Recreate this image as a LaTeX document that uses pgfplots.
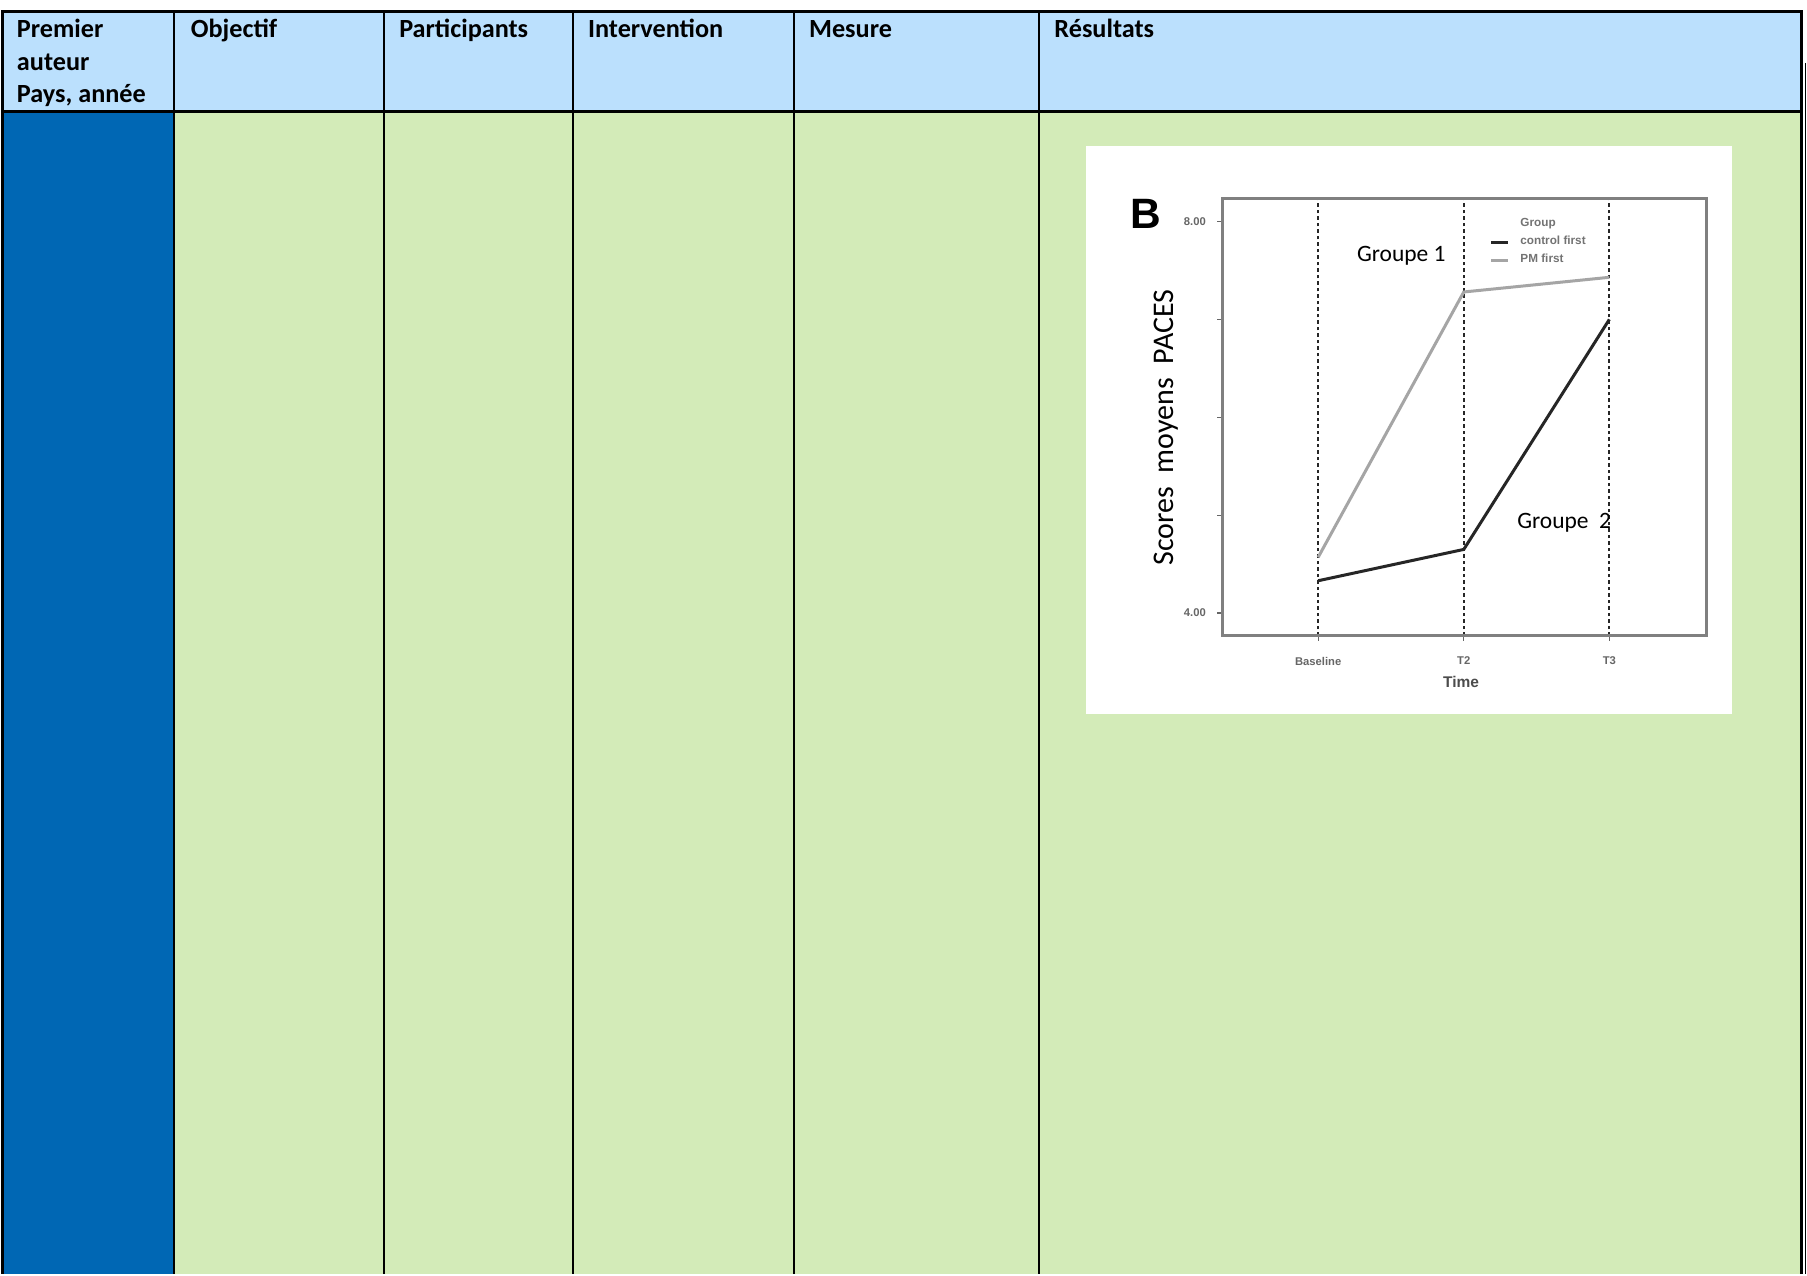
\documentclass[border=0pt]{standalone}
\usepackage{fontspec}
\setmainfont{Carlito}
\newfontfamily\arial{Liberation Sans}
\usepackage{pgfplots}
\pgfplotsset{compat=1.18}
\definecolor{hdrblue}{RGB}{187,224,253}
\definecolor{bodygreen}{RGB}{211,235,184}
\definecolor{darkblue}{RGB}{0,103,180}
\definecolor{lgray}{RGB}{165,165,165}
\newcommand{\hdr}{\fontsize{10.5}{12}\selectfont\bfseries}
\begin{document}
\begin{tikzpicture}
\begin{axis}[x=0.4pt,y=0.4pt,y dir=reverse,xmin=0,xmax=1807,ymin=0,ymax=1275,hide axis,clip=false]
\fill[white] (axis cs:0,0) rectangle (axis cs:1807,1275);
\fill[hdrblue] (axis cs:0,11.5) rectangle (axis cs:1801.5,111.8);
\fill[bodygreen] (axis cs:172.9,111.8) rectangle (axis cs:1801.5,1275);
\fill[darkblue] (axis cs:0,111.8) rectangle (axis cs:172.9,1275);
\fill[white] (axis cs:1085.6,146.4) rectangle (axis cs:1732,714.5);
\draw[line width=1.2pt] (axis cs:1.2,1275) -- (axis cs:1.2,11.5) -- (axis cs:1801.5,11.5) -- (axis cs:1801.5,1275);
\draw[line width=1.2pt] (axis cs:0,111.8) -- (axis cs:1801.5,111.8);
\draw[line width=0.8pt] (axis cs:172.9,11.5) -- (axis cs:172.9,1275);
\draw[line width=0.8pt] (axis cs:382.6,11.5) -- (axis cs:382.6,1275);
\draw[line width=0.8pt] (axis cs:571.6,11.5) -- (axis cs:571.6,1275);
\draw[line width=0.8pt] (axis cs:792.9,11.5) -- (axis cs:792.9,1275);
\draw[line width=0.8pt] (axis cs:1038.3,11.5) -- (axis cs:1038.3,1275);
\draw[line width=0.5pt] (axis cs:1805.8,63) -- (axis cs:1805.8,1275);
\node[anchor=base west,inner sep=0,font=\hdr] at (axis cs:15,38) {Premier};
\node[anchor=base west,inner sep=0,font=\hdr] at (axis cs:15,70.3) {auteur};
\node[anchor=base west,inner sep=0,font=\hdr] at (axis cs:15,102.6) {Pays, année};
\node[anchor=base west,inner sep=0,font=\hdr] at (axis cs:189,38) {Objectif};
\node[anchor=base west,inner sep=0,font=\hdr] at (axis cs:397.6,38) {Participants};
\node[anchor=base west,inner sep=0,font=\hdr] at (axis cs:586.6,38) {Intervention};
\node[anchor=base west,inner sep=0,font=\hdr] at (axis cs:807.8,38) {Mesure};
\node[anchor=base west,inner sep=0,font=\hdr] at (axis cs:1053.3,38) {Résultats};
\coordinate (cSW) at (axis cs:1221.6,636.1);
\coordinate (ylab) at (axis cs:1166,428);
\coordinate (g1) at (axis cs:1401,256);
\coordinate (g2) at (axis cs:1564,523);
\coordinate (B) at (axis cs:1145,214);
\end{axis}
\begin{axis}[at={(cSW)},anchor=south west,width=194.08pt,height=175.16pt,scale only axis,
  xmin=0.34,xmax=3.67,ymin=3.77,ymax=8.24,
  xtick={1,2,3},xticklabels={Baseline,T2,T3},
  ytick={4,5,6,7,8},yticklabels={4.00,,,,8.00},
  tick align=outside,tick pos=left,major tick length=2pt,
  tick style={black!60,line width=0.5pt},
  axis line style={black!50,line width=1.2pt},
  xmajorgrids,grid style={black!85,dash pattern=on 1.4pt off 1.2pt,line width=0.7pt},
  xticklabel style={font=\arial\bfseries\fontsize{4.5}{5}\selectfont,text=black!60,yshift=-3pt},
  yticklabel style={font=\arial\bfseries\fontsize{4.5}{5}\selectfont,text=black!60,xshift=-1pt},
  xlabel={Time},
  xlabel style={font=\arial\bfseries\fontsize{6.2}{7}\selectfont,text=black!70,at={(axis description cs:0.493,0)},anchor=center,yshift=-18.4pt},
  legend style={at={(0.55,0.968)},anchor=north west,draw=none,fill=none,
    font=\arial\bfseries\fontsize{4.7}{4.9}\selectfont,text=black!55,inner sep=0.3pt,row sep=-1.6pt},
  legend cell align=left,
  legend image code/.code={\draw[#1] (0pt,0pt) -- (6.5pt,0pt);},
]
\addlegendimage{empty legend}
\addlegendentry{\hspace{2.5pt}Group}
\addplot[black!85,line width=1.2pt] coordinates {(1,4.33) (2,4.65) (3,7.00)};
\addlegendentry{\hspace{2.5pt}control first}
\addplot[lgray,line width=1.2pt] coordinates {(1,4.57) (2,7.28) (3,7.43)};
\addlegendentry{\hspace{2.5pt}PM first}
\end{axis}
\node[rotate=90,font=\fontsize{12}{14}\selectfont] at (ylab) {Scores\hspace{5.5pt}moyens\hspace{5.5pt}PACES};
\node[font=\fontsize{9.4}{11}\selectfont] at (g1) {Groupe 1};
\node[font=\fontsize{9.4}{11}\selectfont] at (g2) {Groupe\ \ 2};
\node[font=\arial\bfseries\fontsize{17}{17}\selectfont] at (B) {B};
\end{tikzpicture}
\end{document}
